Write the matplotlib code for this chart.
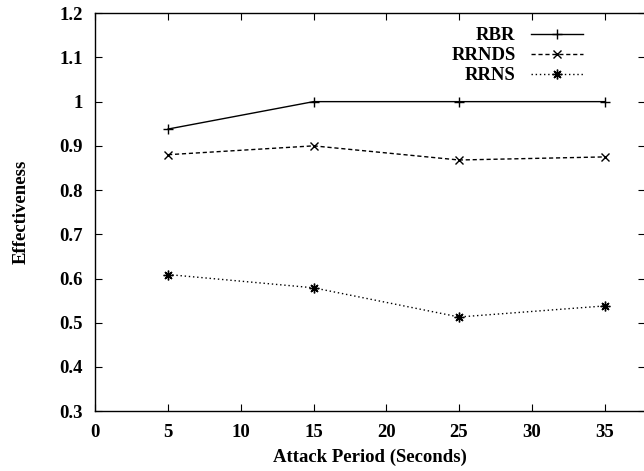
import matplotlib
matplotlib.use("Agg")
import matplotlib.pyplot as plt

periods = [5, 15, 25, 35]
rbr = [0.938, 1.0, 1.0, 1.0]
rrnds = [0.88, 0.90, 0.868, 0.875]
rrns = [0.609, 0.579, 0.513, 0.538]

plt.rcParams['font.family'] = ['Liberation Serif', 'DejaVu Serif']
plt.rcParams['font.weight'] = 'bold'

fig = plt.figure(figsize=(6.44, 4.71), dpi=100)
ax = fig.add_axes([0.148, 0.127, 0.854, 0.845])

ax.plot(periods, rbr, color='black', lw=1.0, marker='+', ms=7, mew=1.0, label='RBR')
ax.plot(periods, rrnds, color='black', lw=1.0, ls=(0, (3, 2)), marker='x', ms=6, mew=1.0, label='RRNDS')
ax.plot(periods, rrns, color='black', lw=1.0, ls=(0, (1, 2)), marker=(8, 2, 0), ms=7, mew=1.0, label='RRNS')

ax.set_xlim(0, 37.8)
ax.set_ylim(0.3, 1.2)
ax.set_xticks(range(0, 40, 5))
ax.set_yticks([0.3, 0.4, 0.5, 0.6, 0.7, 0.8, 0.9, 1.0, 1.1, 1.2])
ax.set_yticklabels(['0.3', '0.4', '0.5', '0.6', '0.7', '0.8', '0.9', '1', '1.1', '1.2'])
ax.tick_params(direction='in', length=5, width=0.8, top=True, right=True, labelsize=13.5)
ax.tick_params(axis='x', pad=9)
ax.tick_params(axis='y', pad=9)
for s in ax.spines.values():
    s.set_linewidth(1.0)

ax.set_xlabel('Attack Period (Seconds)', fontsize=13.5, fontweight='bold', labelpad=6)
ax.set_ylabel('Effectiveness', fontsize=13.5, fontweight='bold', labelpad=21)

leg = ax.legend(loc='upper right', bbox_to_anchor=(0.887, 0.965), frameon=False,
                markerfirst=False, fontsize=13.5, handlelength=2.8, borderpad=0,
                borderaxespad=0, labelspacing=0.15, handletextpad=0.8)
for t in leg.get_texts():
    t.set_ha('right')
    t.set_fontweight('bold')

fig.savefig('out.png', dpi=100)
